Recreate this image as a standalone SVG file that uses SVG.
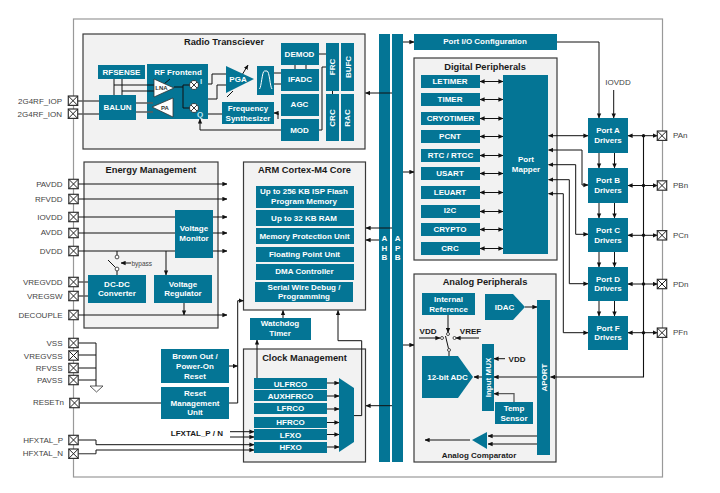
<svg xmlns="http://www.w3.org/2000/svg" width="720" height="493" viewBox="0 0 720 493">
<style>
text{font-family:"Liberation Sans",Arial,sans-serif}
.p{fill:#f2f2f2;stroke:#3a3a3a;stroke-width:1.2}
.b{fill:#047595}
.w{fill:#fff;font-size:8px;font-weight:bold;text-anchor:middle}
.s{font-size:6px}
.t{fill:#1a1a1a;font-size:9.3px;font-weight:bold;text-anchor:middle}
.k{fill:#1a1a1a;font-size:8px;font-weight:bold;text-anchor:middle}
.l{fill:#444;font-size:8px;text-anchor:end}
.r{fill:#444;font-size:8px}
.c{fill:none;stroke:#111;stroke-width:1}
.g{fill:none;stroke:#5c5c5c;stroke-width:1.3}
.e{marker-end:url(#a)}
.d{marker-start:url(#a);marker-end:url(#a)}
.o{fill:#fff;stroke:#222;stroke-width:.8}
.v{fill:#fff;stroke:#333;stroke-width:.8}
.x{fill:none;stroke:#222;stroke-width:.9}
.q{fill:#111}
</style>
<defs>
<marker id="a" viewBox="0 0 5 5" refX="4.6" refY="2.5" markerWidth="5" markerHeight="5" orient="auto-start-reverse" markerUnits="userSpaceOnUse"><path d="M0 .3L5 2.5L0 4.7z" fill="#111"/></marker>
<g id="pad"><rect x="-4.7" y="-4.7" width="9.4" height="9.4" fill="#fff" stroke="#333" stroke-width="1.2"/><path d="M-4.7-4.7L4.7 4.7M-4.7 4.7L4.7-4.7" stroke="#222" stroke-width="1"/></g>
</defs>
<rect x="73.5" y="19" width="589" height="458" fill="#fff" stroke="#999" stroke-width="1.2"/>

<g id="panel-radio"><rect class="p" x="83" y="34" width="282" height="115"/><text class="t" x="224" y="45">Radio Transciever</text></g>
<g id="panel-energy"><rect class="p" x="84" y="162" width="134" height="166"/><text class="t" x="151" y="173">Energy Management</text></g>
<g id="panel-arm"><rect class="p" x="243.5" y="162" width="122" height="148"/><text class="t" x="304.500" y="173">ARM Cortex-M4 Core</text></g>
<g id="panel-clock"><rect class="p" x="243.500" y="349" width="122" height="113"/><text class="t" x="304.500" y="361">Clock Management</text></g>
<g id="panel-digital"><rect class="p" x="414" y="58" width="143" height="202"/><text class="t" x="485" y="70">Digital Peripherals</text></g>
<g id="panel-analog"><rect class="p" x="414" y="274" width="142" height="188"/><text class="t" x="485" y="285">Analog Peripherals</text></g>
<g id="ahb"><rect class="b" x="379" y="34" width="11" height="428"/><text class="w" x="384.500" y="241">A</text><text class="w" x="384.500" y="251">H</text><text class="w" x="384.500" y="260">B</text></g>
<g id="apb"><rect class="b" x="392" y="34" width="11" height="428"/><text class="w" x="397.700" y="241">A</text><text class="w" x="397.700" y="251">P</text><text class="w" x="397.700" y="260">B</text></g>
<g id="rf-frontend"><rect class="b" x="147" y="64" width="61" height="55"/><text class="w" x="178" y="75">RF Frontend</text><text class="w" style="fill:#bfe8f5" x="201" y="84">I</text><text class="w" style="fill:#bfe8f5" x="200" y="117">Q</text></g>

<g id="connectors">
<path class="g" d="M78 101H99M78 114H99"/>
<path class="c" d="M114 79V95M122 79V95M114 85H155M122 91H155"/>
<path class="g" d="M136 103H153M136 112H153"/>
<path class="c" d="M174 87H183M183 85H190M183 85V108H190"/>
<path class="c" d="M164 84L170 79"/>
<path class="c" d="M208 84H212V74H227M208 99H217V85H227"/>
<path class="c e" d="M242 75L248 65"/>
<path class="c" d="M227 97L233 91"/>
<path class="g" d="M274 73H281M274 84H281M208 114H222"/>
<path class="c" d="M295 65V69M306 65V69M319 54H326M322 130V67H326M319 130H322M332.500 91V94"/>
<path class="c e" d="M281 130H200V119"/>
<path class="c e" d="M278 119V113H274"/>

<path class="c e" d="M78 184H227"/><path class="c e" d="M78 199H227"/><path class="c e" d="M78 217H227"/><path class="c e" d="M78 233H227"/><path class="c e" d="M78 251H227"/><path class="c e" d="M78 315H227"/>
<path class="g" d="M78 282H88M78 296H88"/>
<path class="c e" d="M166 251V275"/>
<path class="c e" d="M184 303V315"/>
<path class="c" d="M117 251V255M117 271V275M115.500 267.500L108 260"/>
<path class="c e" d="M131 263H121"/>

<path class="c" d="M78 343H96M78 355H96M78 368H96M78 380H96M96 343V386"/>
<path class="g" d="M78 403H161"/>
<path class="c" d="M78 440H96V444.700"/>
<path class="c e" d="M96 444.700H254"/>
<path class="g" d="M78 453.700H96"/>
<path class="c" d="M96 453.700V450"/>
<path class="c e" d="M96 450H254"/>
<path class="c e" d="M230 431.700H254"/><path class="c e" d="M230 437H254"/>
<path class="c e" d="M229 366H237.500"/>
<path class="c e" d="M229 403H237.700V300.700H243.500"/>
<path class="c e" d="M257 378V340"/>
<path class="c e" d="M283 318V310.500"/>
<path class="c e" d="M354 415.600H361.700V340.700H338V310.500"/>
<path class="c e" d="M327 383H339"/><path class="c e" d="M327 396H339"/><path class="c e" d="M327 409H339"/><path class="c e" d="M327 422.500H339"/><path class="c e" d="M327 434.500H339"/><path class="c e" d="M327 447H339"/>

<path class="c e" d="M392 93H365.500"/><path class="c e" d="M392 228H366"/><path class="c e" d="M379 240H366"/><path class="c e" d="M392 405.700H366"/>
<path class="c e" d="M403 42H414"/><path class="c e" d="M403 172H414"/><path class="c e" d="M403 345H414"/>

<path class="c d" d="M480 81.500H503"/><path class="c d" d="M480 99.500H503"/><path class="c d" d="M480 118.500H503"/><path class="c d" d="M480 136.500H503"/><path class="c d" d="M480 155.500H503"/><path class="c d" d="M480 173.500H503"/><path class="c d" d="M480 192.500H503"/><path class="c d" d="M480 211.500H503"/><path class="c d" d="M480 229.500H503"/><path class="c d" d="M480 248.500H503"/>

<path class="c d" d="M548.500 135.700H588"/>
<path class="c d" d="M548.500 150H582V185H588"/>
<path class="c d" d="M548.500 164.700H575.700V234.300H588"/>
<path class="c d" d="M548.500 179.700H569.300V283.700H588"/>
<path class="c d" d="M548.500 193.700H563.300V332.700H588"/>
<path class="c e" d="M557 42H599V118"/>
<path class="c e" d="M613.700 90V118"/>
<path class="c e" d="M599 153V168"/><path class="c e" d="M614.500 153V168"/><path class="c e" d="M599 203V218"/><path class="c e" d="M614.500 203V218"/><path class="c e" d="M599 252V267"/><path class="c e" d="M614.500 252V267"/><path class="c e" d="M599 301V316"/><path class="c e" d="M614.500 301V316"/>
<path class="c d" d="M628 135.700H657.500"/><path class="c d" d="M628 185.500H657.500"/><path class="c d" d="M628 235.300H657.500"/><path class="c d" d="M628 284H657.500"/><path class="c d" d="M628 332.700H657.500"/>
<path class="c e" d="M643.500 135.700V377H550.500" style="stroke-width:1.1"/>
<circle class="q" cx="643.500" cy="135.700" r="1.700"/><circle class="q" cx="643.500" cy="185.500" r="1.700"/><circle class="q" cx="643.500" cy="235.300" r="1.700"/><circle class="q" cx="643.500" cy="284" r="1.700"/><circle class="q" cx="643.500" cy="332.700" r="1.700"/>

<path class="c e" d="M525 307H537"/>
<path class="c e" d="M448 315V332.500"/>
<path class="c e" d="M419 338H440"/><path class="c e" d="M479 338H456"/>
<path class="c" d="M448.500 348.500L445.500 336M449 352V356"/>
<path class="c e" d="M505 358.700H494"/>
<path class="g e" d="M537 377H494"/>
<path class="c e" d="M482 377H474"/>
<path class="g e" d="M514 402V393.700H494"/>
<path class="c e" d="M537 436H488"/><path class="c e" d="M537 444H488"/>
<path class="g e" d="M470 440H425"/>
</g>

<g id="balun"><rect class="b" x="99" y="95" width="37" height="25"/><text class="w" x="117.500" y="109.500">BALUN</text></g>
<g id="rfsense"><rect class="b" x="98" y="65" width="47" height="14"/><text class="w" x="121.500" y="74.500">RFSENSE</text></g>
<g id="lna"><path class="v" d="M154 79V97L174 88z"/><text class="w s" style="fill:#333" x="161.500" y="90">LNA</text></g>
<g id="pa"><path class="v" d="M173 98V117L152 107z"/><text class="w s" style="fill:#333" x="165" y="109.500">PA</text></g>
<g id="mixer-i"><circle class="o" cx="194" cy="85" r="4.500"/><path class="x" d="M191 82L197 88M191 88L197 82"/></g>
<g id="mixer-q"><circle class="o" cx="194" cy="108" r="4.500"/><path class="x" d="M191 105L197 111M191 111L197 105"/></g>
<g id="pga"><path class="b" d="M226 66V93L254 79z"/><text class="w" x="238" y="82">PGA</text></g>
<g id="filter"><rect class="b" x="257" y="66" width="17" height="29"/><path d="M259.500 89C261.500 87 262 71 264.500 71H267C269.500 71 270 87 272 89" fill="none" stroke="#fff"/></g>
<g id="demod"><rect class="b" x="281" y="43" width="38" height="22"/><text class="w" x="299.500" y="57">DEMOD</text></g>
<g id="ifadc"><rect class="b" x="281" y="69" width="38" height="22"/><text class="w" x="300" y="82">IFADC</text></g>
<g id="agc"><rect class="b" x="281" y="94" width="38" height="22"/><text class="w" x="299.500" y="107">AGC</text></g>
<g id="mod"><rect class="b" x="281" y="119" width="38" height="22"/><text class="w" x="299.500" y="133">MOD</text></g>
<g id="synth"><rect class="b" x="222" y="102" width="52" height="22"/><text class="w" x="248" y="111">Frequency</text><text class="w" x="248" y="121">Synthesizer</text></g>
<g id="frc"><rect class="b" x="326" y="43" width="13" height="48"/><text class="w" transform="translate(335 67) rotate(-90)">FRC</text></g>
<g id="bufc"><rect class="b" x="341" y="43" width="13" height="48"/><text class="w" transform="translate(350.500 67) rotate(-90)">BUFC</text></g>
<g id="crc-r"><rect class="b" x="326" y="94" width="13" height="47"/><text class="w" transform="translate(334.500 118) rotate(-90)">CRC</text></g>
<g id="rac"><rect class="b" x="341" y="94" width="13" height="47"/><text class="w" transform="translate(350 118) rotate(-90)">RAC</text></g>

<g id="vmon"><rect class="b" x="175" y="210" width="38" height="48"/><text class="w" x="194" y="231">Voltage</text><text class="w" x="194" y="241">Monitor</text></g>
<g id="dcdc"><rect class="b" x="88" y="275" width="58" height="28"/><text class="w" x="117" y="287">DC-DC</text><text class="w" x="117" y="296">Converter</text></g>
<g id="vreg"><rect class="b" x="154" y="275" width="58" height="28"/><text class="w" x="183" y="287">Voltage</text><text class="w" x="183" y="296">Regulator</text></g>
<g id="sw-bypass"><circle class="o" cx="117" cy="257" r="1.900"/><circle class="o" cx="117" cy="269" r="1.900"/><text x="131.500" y="265.500" fill="#444" font-size="6.500">bypass</text></g>

<g id="flash"><rect class="b" x="256" y="186" width="98" height="22"/><text class="w" x="304" y="194">Up to 256 KB ISP Flash</text><text class="w" x="304" y="204">Program Memory</text></g>
<g id="ram"><rect class="b" x="256" y="210" width="98" height="16"/><text class="w" x="304" y="221">Up to 32 KB RAM</text></g>
<g id="mpu"><rect class="b" x="256" y="228" width="98" height="16"/><text class="w" x="304.500" y="239">Memory Protection Unit</text></g>
<g id="fpu"><rect class="b" x="256" y="247" width="98" height="15"/><text class="w" x="304.500" y="257">Floating Point Unit</text></g>
<g id="dma"><rect class="b" x="256" y="264" width="98" height="16"/><text class="w" x="304.500" y="274">DMA Controller</text></g>
<g id="swd"><rect class="b" x="255" y="282" width="98" height="20"/><text class="w" x="304" y="290">Serial Wire Debug /</text><text class="w" x="304" y="299">Programming</text></g>
<g id="watchdog"><rect class="b" x="250" y="318" width="61" height="22"/><text class="w" x="280" y="326">Watchdog</text><text class="w" x="280" y="336">Timer</text></g>
<g id="brownout"><rect class="b" x="161" y="349" width="68" height="34"/><text class="w" x="195" y="359">Brown Out /</text><text class="w" x="195" y="369">Power-On</text><text class="w" x="195" y="379">Reset</text></g>
<g id="reset-unit"><rect class="b" x="161" y="387" width="68" height="32"/><text class="w" x="195" y="396">Reset</text><text class="w" x="195" y="406">Management</text><text class="w" x="195" y="415">Unit</text></g>
<g id="ulfrco"><rect class="b" x="254" y="378" width="73" height="11"/><text class="w" x="290.500" y="386.500">ULFRCO</text></g>
<g id="auxhfrco"><rect class="b" x="254" y="390" width="73" height="11"/><text class="w" x="290.500" y="398.500">AUXHFRCO</text></g>
<g id="lfrco"><rect class="b" x="254" y="403" width="73" height="11"/><text class="w" x="290.500" y="411">LFRCO</text></g>
<g id="hfrco"><rect class="b" x="254" y="417" width="73" height="11"/><text class="w" x="290.500" y="425">HFRCO</text></g>
<g id="lfxo"><rect class="b" x="254" y="429" width="73" height="11"/><text class="w" x="290.500" y="437.500">LFXO</text></g>
<g id="hfxo"><rect class="b" x="254" y="442" width="73" height="11"/><text class="w" x="290.500" y="450">HFXO</text></g>
<g id="clock-mux"><path class="b" d="M339 378L354 388V442L339 452z"/></g>
<g id="ground"><path class="v" d="M90 386H103L96.500 392z"/></g>
<g id="lfxtal"><text class="k" style="text-anchor:end" x="223" y="436">LFXTAL_P / N</text></g>

<g id="port-io"><rect class="b" x="414" y="34" width="143" height="16"/><text class="w" x="485" y="44">Port I/O Configuration</text></g>
<g id="letimer"><rect class="b" x="421" y="75" width="59" height="13"/><text class="w" x="450" y="84">LETIMER</text></g>
<g id="timer"><rect class="b" x="421" y="93" width="59" height="13"/><text class="w" x="450" y="102">TIMER</text></g>
<g id="cryotimer"><rect class="b" x="421" y="112" width="59" height="13"/><text class="w" x="450.500" y="121">CRYOTIMER</text></g>
<g id="pcnt"><rect class="b" x="421" y="130" width="59" height="13"/><text class="w" x="450" y="139">PCNT</text></g>
<g id="rtc"><rect class="b" x="421" y="149" width="59" height="13"/><text class="w" x="450.500" y="158">RTC / RTCC</text></g>
<g id="usart"><rect class="b" x="421" y="167" width="59" height="13"/><text class="w" x="450" y="176">USART</text></g>
<g id="leuart"><rect class="b" x="421" y="186" width="59" height="13"/><text class="w" x="450" y="195">LEUART</text></g>
<g id="i2c"><rect class="b" x="421" y="205" width="59" height="13"/><text class="w" x="450" y="213">I2C</text></g>
<g id="crypto"><rect class="b" x="421" y="223" width="59" height="13"/><text class="w" x="450" y="232">CRYPTO</text></g>
<g id="crc"><rect class="b" x="421" y="242" width="59" height="13"/><text class="w" x="450" y="251">CRC</text></g>
<g id="port-mapper"><rect class="b" x="503" y="75" width="45" height="179"/><text class="w" x="526" y="162">Port</text><text class="w" x="526" y="172">Mapper</text></g>
<g id="port-a"><rect class="b" x="588" y="118" width="40" height="35"/><text class="w" x="608" y="133">Port A</text><text class="w" x="608" y="143">Drivers</text></g>
<g id="port-b"><rect class="b" x="588" y="168" width="40" height="35"/><text class="w" x="608" y="183">Port B</text><text class="w" x="608" y="193">Drivers</text></g>
<g id="port-c"><rect class="b" x="588" y="218" width="40" height="34"/><text class="w" x="608" y="233">Port C</text><text class="w" x="608" y="243">Drivers</text></g>
<g id="port-d"><rect class="b" x="588" y="267" width="40" height="34"/><text class="w" x="608" y="282">Port D</text><text class="w" x="608" y="291">Drivers</text></g>
<g id="port-f"><rect class="b" x="588" y="316" width="40" height="34"/><text class="w" x="608" y="331">Port F</text><text class="w" x="608" y="340">Drivers</text></g>
<g id="iovdd"><text class="r" x="618" y="85" text-anchor="middle">IOVDD</text></g>

<g id="int-ref"><rect class="b" x="422" y="293" width="53" height="22"/><text class="w" x="448.500" y="302">Internal</text><text class="w" x="448.500" y="312">Reference</text></g>
<g id="idac"><path class="b" d="M485 294H513L525 307L513 320H485z"/><text class="w" x="504.500" y="310">IDAC</text></g>
<g id="aport"><rect class="b" x="537" y="300" width="13" height="155"/><text class="w" transform="translate(546.500 377.500) rotate(-90)">APORT</text></g>
<g id="input-mux"><rect class="b" x="482" y="344" width="12" height="67"/><text class="w" transform="translate(490.500 377.500) rotate(-90)">Input MUX</text></g>
<g id="adc"><path class="b" d="M422 356H458L473 377L458 398H422z"/><text class="w" x="447.500" y="379.500">12-bit ADC</text></g>
<g id="temp"><rect class="b" x="495" y="402" width="38" height="22"/><text class="w" x="514" y="411">Temp</text><text class="w" x="514" y="421">Sensor</text></g>
<g id="comparator"><path class="b" d="M472 440L487 432V449z"/><text class="k" x="479" y="458">Analog Comparator</text></g>
<g id="adc-switch"><circle class="o" cx="448" cy="334" r="1.500"/><circle class="o" cx="442" cy="338" r="1.500"/><circle class="o" cx="454.500" cy="338" r="1.500"/><circle class="o" cx="449" cy="350" r="1.500"/><text class="k" x="428" y="334">VDD</text><text class="k" x="470.500" y="334">VREF</text></g>
<g id="vdd-mux"><text class="k" x="517" y="361.500">VDD</text></g>

<g id="pad-iop"><use href="#pad" x="73" y="100.700"/><text class="l" x="62" y="103.500">2G4RF_IOP</text></g>
<g id="pad-ion"><use href="#pad" x="73" y="113.700"/><text class="l" x="62" y="116.500">2G4RF_ION</text></g>
<g id="pad-pavdd"><use href="#pad" x="73.500" y="184"/><text class="l" x="62.500" y="187">PAVDD</text></g>
<g id="pad-rfvdd"><use href="#pad" x="73.500" y="199"/><text class="l" x="62.500" y="202">RFVDD</text></g>
<g id="pad-iovdd"><use href="#pad" x="73.500" y="217"/><text class="l" x="62.500" y="220">IOVDD</text></g>
<g id="pad-avdd"><use href="#pad" x="73.500" y="233"/><text class="l" x="62.500" y="235">AVDD</text></g>
<g id="pad-dvdd"><use href="#pad" x="73.500" y="251"/><text class="l" x="62.500" y="254">DVDD</text></g>
<g id="pad-vregvdd"><use href="#pad" x="73.500" y="282"/><text class="l" x="62.500" y="285">VREGVDD</text></g>
<g id="pad-vregsw"><use href="#pad" x="73.500" y="296"/><text class="l" x="62.500" y="299">VREGSW</text></g>
<g id="pad-decouple"><use href="#pad" x="73.500" y="315"/><text class="l" x="62.500" y="317.500">DECOUPLE</text></g>
<g id="pad-vss"><use href="#pad" x="73.500" y="343"/><text class="l" x="62.500" y="346">VSS</text></g>
<g id="pad-vregvss"><use href="#pad" x="73.500" y="355.500"/><text class="l" x="62.500" y="358.500">VREGVSS</text></g>
<g id="pad-rfvss"><use href="#pad" x="73.500" y="368"/><text class="l" x="62.500" y="370.500">RFVSS</text></g>
<g id="pad-pavss"><use href="#pad" x="73.500" y="380"/><text class="l" x="62.500" y="383">PAVSS</text></g>
<g id="pad-reset"><use href="#pad" x="74.500" y="403"/><text class="l" x="64" y="405">RESETn</text></g>
<g id="pad-hfp"><use href="#pad" x="73.500" y="440"/><text class="l" x="63" y="443">HFXTAL_P</text></g>
<g id="pad-hfn"><use href="#pad" x="73.500" y="453.700"/><text class="l" x="63" y="456">HFXTAL_N</text></g>
<g id="pad-pa"><use href="#pad" x="662" y="135.700"/><text class="r" x="673" y="138">PAn</text></g>
<g id="pad-pb"><use href="#pad" x="662" y="185.500"/><text class="r" x="673" y="188">PBn</text></g>
<g id="pad-pc"><use href="#pad" x="662" y="235.300"/><text class="r" x="673" y="238">PCn</text></g>
<g id="pad-pd"><use href="#pad" x="662" y="284"/><text class="r" x="673" y="287">PDn</text></g>
<g id="pad-pf"><use href="#pad" x="662" y="332.700"/><text class="r" x="673" y="335">PFn</text></g>
</svg>
